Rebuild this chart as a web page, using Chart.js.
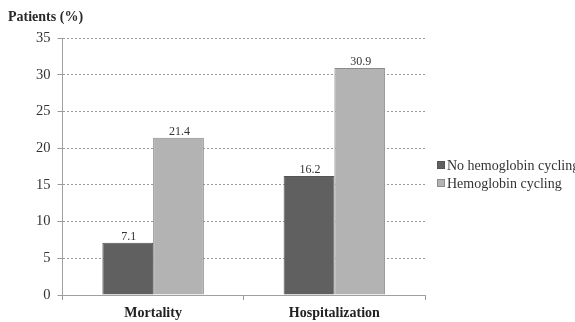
<!DOCTYPE html>
<html>
<head>
<meta charset="utf-8">
<script src="https://cdn.jsdelivr.net/npm/chart.js@4/dist/chart.umd.min.js"></script>
<style>
  html, body { margin: 0; padding: 0; background: #ffffff; }
  #wrap { width: 575px; height: 322px; }
</style>
</head>
<body>
<div id="wrap"><canvas id="c" width="575" height="322"></canvas></div>
<script>
const categories = ['Mortality', 'Hospitalization'];
const seriesNames = ['No hemoglobin cycling', 'Hemoglobin cycling'];
const noCycling = [7.1, 16.2];
const cycling = [21.4, 30.9];
const yTicks = [0, 5, 10, 15, 20, 25, 30, 35];
const yTitle = 'Patients (%)';

const SERIF = '"Liberation Serif", "Times New Roman", serif';

// value labels above each bar
const valueLabels = {
  id: 'valueLabels',
  afterDatasetsDraw(chart) {
    const ctx = chart.ctx;
    ctx.save();
    ctx.font = '12px ' + SERIF;
    ctx.fillStyle = '#333333';
    ctx.textAlign = 'center';
    ctx.textBaseline = 'bottom';
    chart.data.datasets.forEach((ds, i) => {
      chart.getDatasetMeta(i).data.forEach((bar, j) => {
        ctx.fillText(ds.data[j].toFixed(1), bar.x + 1, bar.y);
      });
    });
    ctx.restore();
  }
};

// axis caption at top-left and legend at the right
const extras = {
  id: 'extras',
  afterDraw(chart) {
    const ctx = chart.ctx;
    const area = chart.chartArea;
    ctx.save();
    ctx.font = 'bold 14px ' + SERIF;
    ctx.fillStyle = '#2a2a2a';
    ctx.textAlign = 'left';
    ctx.textBaseline = 'middle';
    ctx.fillText(yTitle, 8, 17);

    ctx.font = '14px ' + SERIF;
    const lx = area.right + 12;
    let ly = 165;
    chart.data.datasets.forEach((ds) => {
      ctx.fillStyle = ds.backgroundColor;
      ctx.fillRect(lx, ly - 4, 8, 8);
      ctx.strokeStyle = ds.borderColor;
      ctx.lineWidth = 1;
      ctx.strokeRect(lx + 0.5, ly - 3.5, 7, 7);
      ctx.fillStyle = '#333333';
      ctx.fillText(ds.label, lx + 10, ly + 1);
      ly += 18;
    });
    ctx.restore();
  }
};

new Chart(document.getElementById('c'), {
  type: 'bar',
  data: {
    labels: categories,
    datasets: [
      {
        label: seriesNames[0],
        data: noCycling,
        backgroundColor: '#606060',
        borderColor: '#555555',
        borderWidth: 1
      },
      {
        label: seriesNames[1],
        data: cycling,
        backgroundColor: '#b3b3b3',
        borderColor: '#8c8c8c',
        borderWidth: 1
      }
    ]
  },
  options: {
    responsive: false,
    animation: false,
    devicePixelRatio: 1,
    layout: { padding: { left: 29, right: 150, top: 38, bottom: 0 } },
    plugins: {
      legend: { display: false },
      tooltip: { enabled: false }
    },
    datasets: {
      bar: { categoryPercentage: 0.56, barPercentage: 1.0 }
    },
    scales: {
      x: {
        afterFit(scale) { scale.height = 27; },
        grid: {
          display: true,
          drawOnChartArea: false,
          drawTicks: true,
          tickLength: 5,
          color: '#999999'
        },
        border: { display: true, color: '#a0a0a0', width: 1 },
        ticks: {
          font: { family: SERIF, size: 14, weight: 'bold', lineHeight: 1 },
          color: '#222222',
          padding: 6
        }
      },
      y: {
        min: 0,
        max: 35,
        afterBuildTicks(scale) {
          scale.ticks = yTicks.map(v => ({ value: v }));
        },
        grid: {
          color: '#9a9a9a',
          lineWidth: 1,
          drawTicks: true,
          tickLength: 5,
          tickColor: '#9a9a9a'
        },
        border: { display: true, color: '#a0a0a0', width: 1, dash: [2, 2] },
        ticks: {
          font: { family: SERIF, size: 14.5 },
          color: '#333333',
          padding: 7
        }
      }
    }
  },
  plugins: [valueLabels, extras]
});
</script>
</body>
</html>
